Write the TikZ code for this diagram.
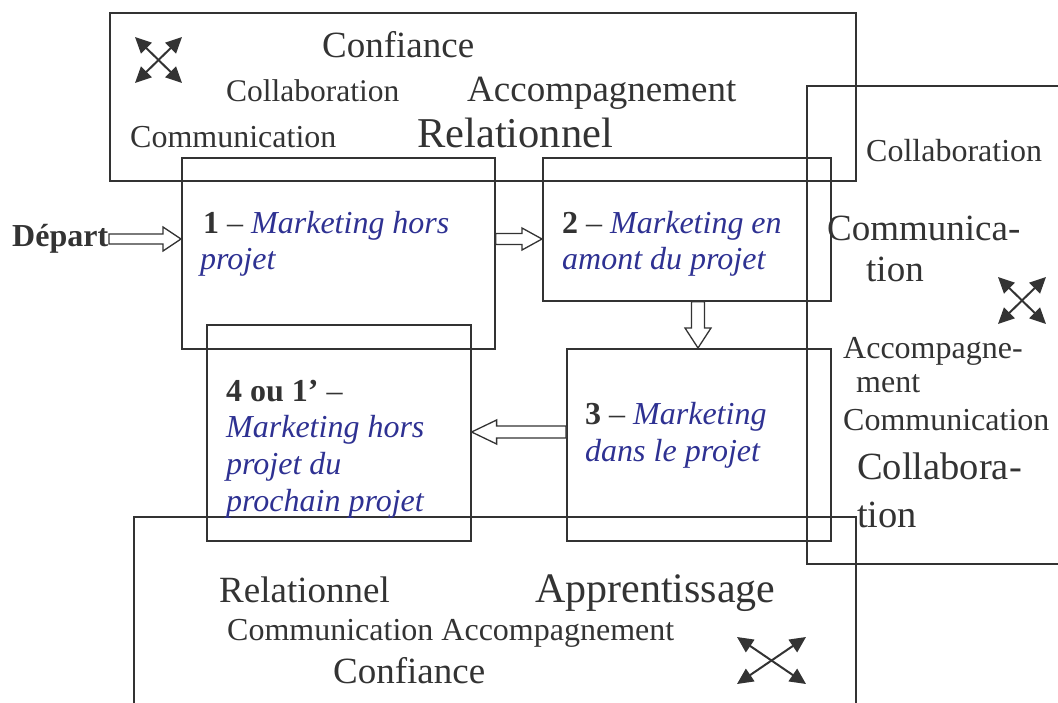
\documentclass[tikz,border=0pt]{standalone}
\usepackage{fontspec}
\setmainfont{Liberation Serif}
\usetikzlibrary{calc,arrows.meta}
\definecolor{ink}{HTML}{333333}
\definecolor{blu}{HTML}{2E3192}
\newcommand\fsz[1]{\fontsize{#1}{#1}\selectfont}
\newcommand\blockarrow[5]{%
  \coordinate (bahead) at ($(#2)!#5!(#1)$);
  \draw[blk] ($(#1)!#3!90:(#2)$) -- ($(bahead)!#3!90:(#2)$) -- ($(bahead)!#4!90:(#2)$) -- (#2)
    -- ($(bahead)!#4!-90:(#2)$) -- ($(bahead)!#3!-90:(#2)$) -- ($(#1)!#3!-90:(#2)$) -- cycle;}
\begin{document}
\begin{tikzpicture}[x=1pt,y=-1pt,
  box/.style={draw=ink, line width=1.6pt, inner sep=0pt, anchor=north west},
  blk/.style={draw=ink, line width=1.3pt, fill=white, line join=miter},
  txt/.style={inner sep=0pt, anchor=base west, text=ink},
  itx/.style={txt, text=blu, font=\fsz{32}\itshape},
  cross/.style={draw=ink, line width=2pt, {Triangle[length=16pt,width=15pt]}-{Triangle[length=16pt,width=15pt]}}
]
\useasboundingbox (0,0) rectangle (1058,702);

% boxes
\node[box, minimum width=746pt, minimum height=168pt] (top) at (109,12) {};
\node[box, minimum width=280pt, minimum height=478pt] (right) at (806,85) {};
\node[box, minimum width=722pt, minimum height=200pt] (bottom) at (133,516) {};
\node[box, minimum width=313pt, minimum height=191pt] (b1) at (181,157) {};
\node[box, minimum width=288pt, minimum height=143pt] (b2) at (542,157) {};
\node[box, minimum width=264pt, minimum height=192pt] (b3) at (566,348) {};
\node[box, minimum width=264pt, minimum height=216pt] (b4) at (206,324) {};

% top box texts
\node[txt, font=\fsz{37}] (t1) at (322,57) {Confiance};
\node[txt, font=\fsz{31.5}] (t2) at (226,101) {Collaboration};
\node[txt, font=\fsz{37}] (t3) at (467,101) {Accompagnement};
\node[txt, font=\fsz{32}] (t4) at (130,147) {Communication};
\node[txt, font=\fsz{42.5}] (t5) at (417,147) {Relationnel};

% right box texts
\node[txt, font=\fsz{32}] (r1) at (866,161) {Collaboration};
\node[txt, font=\fsz{37}] (r2) at (827,240) {Communica-};
\node[txt, font=\fsz{37}] (r3) at (866,281) {tion};
\node[txt, font=\fsz{32}] (r4) at (843,358) {Accompagne-};
\node[txt, font=\fsz{32}] (r5) at (856,392) {ment};
\node[txt, font=\fsz{32}] (r6) at (843,430) {Communication};
\node[txt, font=\fsz{38.5}] (r7) at (857,479) {Collabora-};
\node[txt, font=\fsz{38.5}] (r8) at (857,527) {tion};

% bottom box texts
\node[txt, font=\fsz{37}] (u1) at (219,602) {Relationnel};
\node[txt, font=\fsz{42}] (u2) at (535,602) {Apprentissage};
\node[txt, font=\fsz{32}] (u3) at (227,640) {Communication Accompagnement};
\node[txt, font=\fsz{37}] (u4) at (333,683) {Confiance};

% step texts
\node[txt, font=\fsz{32}] (s1a) at (203,233) {\textbf{1} -- \textcolor{blu}{\itshape Marketing hors}};
\node[itx] (s1b) at (200,269) {projet};
\node[txt, font=\fsz{32}] (s2a) at (562,233) {\textbf{2} -- \textcolor{blu}{\itshape Marketing en}};
\node[itx] (s2b) at (562,269) {amont du projet};
\node[txt, font=\fsz{32}] (s3a) at (585,424) {\textbf{3} -- \textcolor{blu}{\itshape Marketing}};
\node[itx] (s3b) at (585,461) {dans le projet};
\node[txt, font=\fsz{32}] (s4a) at (226,401) {\textbf{4 ou 1’} --};
\node[itx] (s4b) at (226,437) {Marketing hors};
\node[itx] (s4c) at (226,474) {projet du};
\node[itx] (s4d) at (226,511) {prochain projet};

\node[txt, font=\fsz{32}\bfseries] (dep) at (12,246) {Départ};

% block arrows
\coordinate (ya) at (0,239);
\coordinate (yb) at (0,432);
\coordinate (xc) at (698,0);
\coordinate (d0) at (109,239);
\coordinate (d1) at (b1.west |- ya);
\coordinate (a1) at (b1.east |- ya);
\coordinate (a2) at (b2.west |- ya);
\coordinate (c1) at (b2.south -| xc);
\coordinate (c2) at (b3.north -| xc);
\coordinate (e1) at (b3.west |- yb);
\coordinate (e2) at (b4.east |- yb);
\blockarrow{d0}{d1}{5pt}{12pt}{18pt}
\blockarrow{a1}{a2}{5.5pt}{11pt}{20pt}
\blockarrow{c1}{c2}{6.5pt}{13pt}{20pt}
\blockarrow{e1}{e2}{6pt}{12pt}{25pt}

% cross icons
\draw[cross] (135,37) -- (182,83);
\draw[cross] (182,37) -- (135,83);
\draw[cross] (998,277) -- (1046,324);
\draw[cross] (1046,277) -- (998,324);
\draw[cross] (737,637) -- (806,684);
\draw[cross] (806,637) -- (737,684);
\end{tikzpicture}
\end{document}
